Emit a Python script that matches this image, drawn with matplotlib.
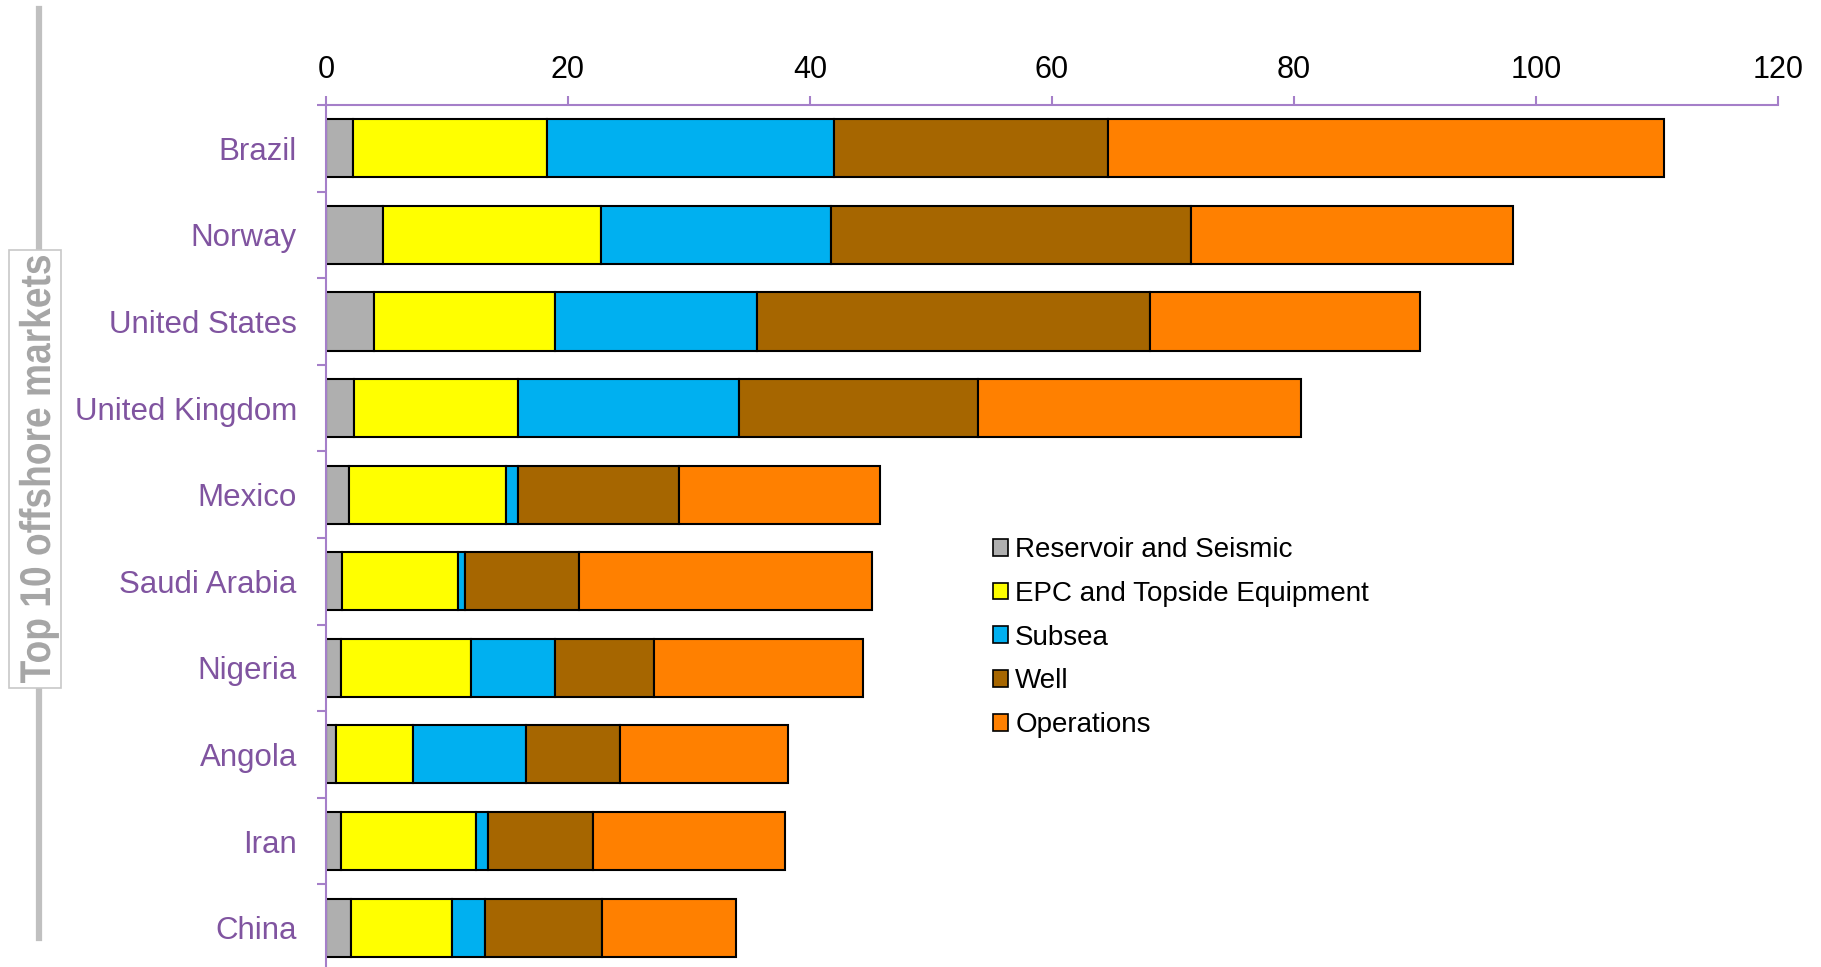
import numpy as np
import matplotlib.pyplot as plt
from matplotlib.patches import Rectangle, PathPatch
from matplotlib.lines import Line2D
from matplotlib.textpath import TextPath
from matplotlib.font_manager import FontProperties
from matplotlib.transforms import Affine2D
from matplotlib.ticker import FixedLocator

countries = ['Brazil', 'Norway', 'United States', 'United Kingdom', 'Mexico',
             'Saudi Arabia', 'Nigeria', 'Angola', 'Iran', 'China']

reservoir = [2.2, 4.7, 4.0, 2.3, 1.9, 1.3, 1.2, 0.8, 1.2, 2.1]
epc = [16.1, 18.0, 14.9, 13.6, 13.0, 9.6, 10.8, 6.4, 11.2, 8.3]
subsea = [23.7, 19.0, 16.7, 18.2, 1.0, 0.6, 6.9, 9.3, 1.0, 2.7]
well = [22.6, 29.8, 32.5, 19.8, 13.3, 9.4, 8.2, 7.8, 8.7, 9.7]
operations = [46.0, 26.6, 22.3, 26.7, 16.6, 24.2, 17.3, 13.9, 15.8, 11.1]

segments = ['Reservoir and Seismic', 'EPC and Topside Equipment', 'Subsea',
            'Well', 'Operations']
colors = ['#afafaf', '#ffff00', '#00b0f0', '#a66600', '#ff8000']

purple = '#a57fc9'
label_purple = '#8054a0'

plt.rcParams['font.family'] = ['Liberation Sans', 'DejaVu Sans']

W, H = 1821, 967
fig = plt.figure(figsize=(W / 100, H / 100), dpi=100)
ax = fig.add_axes([326 / W, -0.0041, (1778 - 326) / W, 0.8955])

y = np.arange(len(countries))
left = np.zeros(len(countries))
for vals, name, c in zip([reservoir, epc, subsea, well, operations], segments, colors):
    ax.barh(y, vals, left=left, height=0.67, color=c, edgecolor='black',
            linewidth=1.5, label=name)
    left += np.array(vals)

ax.set_xlim(0, 120)
ax.set_ylim(len(countries) - 0.5, -0.5)

# value axis on top
ax.xaxis.tick_top()
ax.set_xticks(np.arange(0, 121, 20))
ax.tick_params(axis='x', which='major', direction='out', length=6.5, width=1.5,
               color=purple, labelsize=22, labelcolor='black', pad=8)

# category labels, with tick marks on the band boundaries
ax.set_yticks(y)
ax.set_yticklabels(countries)
ax.yaxis.set_minor_locator(FixedLocator(np.arange(-0.5, len(countries), 1.0)))
ax.tick_params(axis='y', which='major', length=0, labelsize=22.5,
               labelcolor=label_purple, pad=21)
ax.tick_params(axis='y', which='minor', direction='out', length=6.5, width=1.5,
               color=purple)

for s in ['right', 'bottom']:
    ax.spines[s].set_visible(False)
for s in ['top', 'left']:
    ax.spines[s].set_color(purple)
    ax.spines[s].set_linewidth(1.5)

leg = fig.legend(loc='upper left', bbox_to_anchor=(993 / W, 1 - 537 / H),
                 frameon=False, fontsize=20, handlelength=0.55, handleheight=0.55,
                 handletextpad=0.25, labelspacing=0.64, borderpad=0,
                 borderaxespad=0)
for h in leg.legend_handles:
    h.set_linewidth(1.2)

# side title: grey bar, white box on top of it, condensed bold text
fig.add_artist(Line2D([39 / W, 39 / W], [1 - 9 / H, 1 - 938 / H],
                      color='#c0c0c0', linewidth=4.5, transform=fig.transFigure,
                      zorder=1))
fig.add_artist(Rectangle((9 / W, 1 - 688 / H), 52 / W, 438 / H,
                         transform=fig.transFigure, facecolor='white',
                         edgecolor='#c8c8c8', linewidth=1.2, zorder=2))

title_path = TextPath((0, 0), 'Top 10 offshore markets', size=43,
                      prop=FontProperties(family='Liberation Sans', weight='bold'))
ext = title_path.get_extents()
sx = 427 / ext.width
squeeze = (Affine2D().translate(-ext.x0, 0).scale(sx, 1).rotate_deg(90)
           .translate(50, H - 683))
fig.add_artist(PathPatch(title_path, transform=squeeze, facecolor='#a6a6a6',
                         edgecolor='none', zorder=3))

fig.savefig('out.png', dpi=100)
